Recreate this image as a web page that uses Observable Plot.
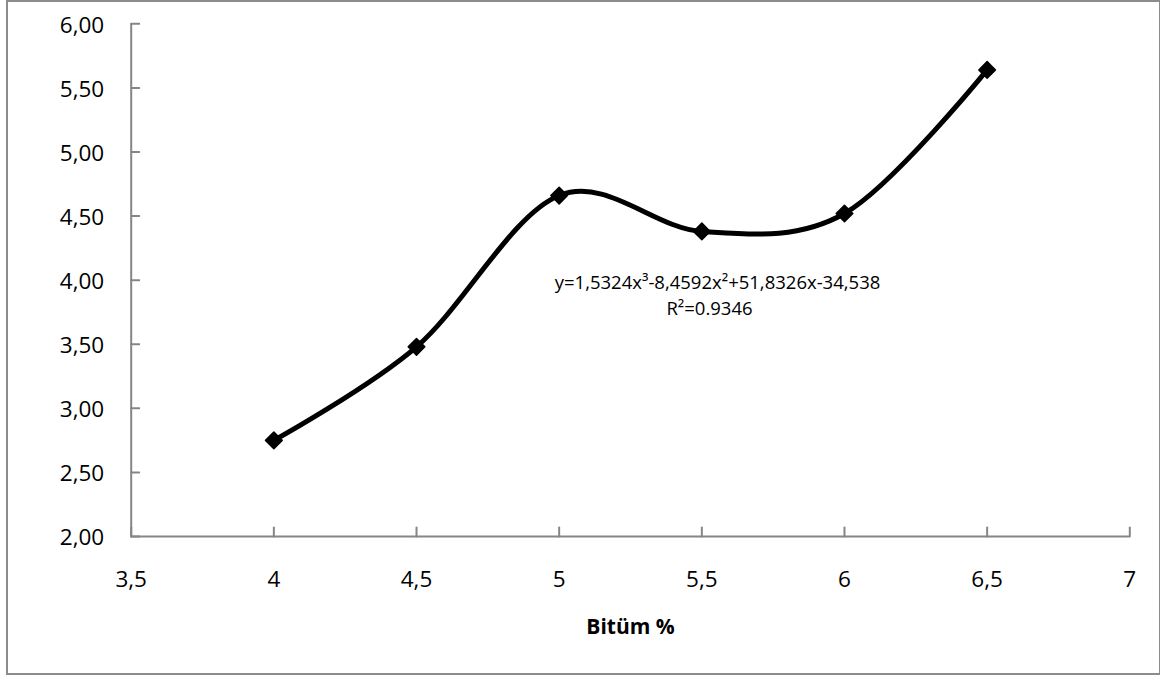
<!DOCTYPE html>
<html>
<head>
<meta charset="utf-8">
<script src="https://cdn.jsdelivr.net/npm/d3@7"></script>
<script src="https://cdn.jsdelivr.net/npm/@observablehq/plot@0.6"></script>
<style>
  html, body { margin: 0; padding: 0; background: #fff; }
  #wrap { position: relative; width: 1160px; height: 679px; overflow: hidden; }
  #frame { position: absolute; left: 6px; top: 0px; width: 1151px; height: 671px; border: 2px solid #8c8c8c; pointer-events: none; }
  svg { font-family: "Open Sans", Lato, sans-serif; }
</style>
</head>
<body>
<div id="wrap"><div id="frame"></div></div>
<script>
// Data
const bitumen = [4, 4.5, 5, 5.5, 6, 6.5];
const values = [2.75, 3.48, 4.66, 4.38, 4.52, 5.64];
const xTicks = [3.5, 4, 4.5, 5, 5.5, 6, 6.5, 7];
const yTicks = [2.0, 2.5, 3.0, 3.5, 4.0, 4.5, 5.0, 5.5, 6.0];
const xDomain = [3.5, 7];
const yDomain = [2, 6];
const xLabel = "Bitüm %";
const equationLines = ["y=1,5324x³-8,4592x²+51,8326x-34,538", "R²=0.9346"];
const equationPos = {x: 5.555, y: 3.978};

const data = bitumen.map((x, i) => ({x, y: values[i]}));
const axisColor = "#868686";
const tickShape = {draw(context, l) { context.moveTo(0, 0); context.lineTo(0, -l); }};

const chart = Plot.plot({
  width: 1160,
  height: 679,
  marginLeft: 130.7,
  marginRight: 30.7,
  marginTop: 23.3,
  marginBottom: 143,
  style: {fontFamily: "'Open Sans', Lato, sans-serif", background: "transparent", overflow: "visible"},
  x: {domain: xDomain, ticks: xTicks},
  y: {domain: yDomain, ticks: yTicks},
  marks: [
    Plot.ruleY([yDomain[0]], {stroke: axisColor, strokeWidth: 2}),
    Plot.ruleX([xDomain[0]], {stroke: axisColor, strokeWidth: 2}),
    Plot.vector(xTicks, {x: d => d, frameAnchor: "bottom", length: 9, rotate: 0, anchor: "start", shape: tickShape, stroke: axisColor, strokeWidth: 2}),
    Plot.vector(yTicks, {y: d => d, frameAnchor: "left", length: 8, rotate: 90, anchor: "start", shape: tickShape, stroke: axisColor, strokeWidth: 2}),
    Plot.axisX({ticks: xTicks, tickSize: 0, tickPadding: 35, fontSize: 22.5, fill: "#000", label: null,
      tickFormat: d => String(d).replace(".", ",")}),
    Plot.axisY({ticks: yTicks, tickSize: 0, tickPadding: 27, fontSize: 22.5, fill: "#000", label: null, dy: 1.5,
      tickFormat: d => d.toFixed(2).replace(".", ",")}),
    Plot.line(data, {x: "x", y: "y", curve: "cardinal", tension: 0, stroke: "#000", strokeWidth: 5, strokeLinejoin: "round", strokeLinecap: "round"}),
    Plot.dot(data, {x: "x", y: "y", symbol: "diamond2", r: 7.5, fill: "#000", stroke: "#000", strokeWidth: 1.5, strokeLinejoin: "round"}),
    Plot.text([equationLines[0]], {x: equationPos.x, y: equationPos.y, text: d => d, fontSize: 18.5, fill: "#000", textAnchor: "middle"}),
    Plot.text([equationLines[1]], {x: equationPos.x, y: equationPos.y, text: d => d, fontSize: 18.5, fill: "#000", textAnchor: "middle", dy: 25.7, dx: -8}),
    Plot.text([xLabel], {frameAnchor: "bottom", text: d => d, dy: 97, fontSize: 21, fontWeight: "bold", fill: "#000"})
  ]
});
document.getElementById("wrap").prepend(chart);
</script>
</body>
</html>
